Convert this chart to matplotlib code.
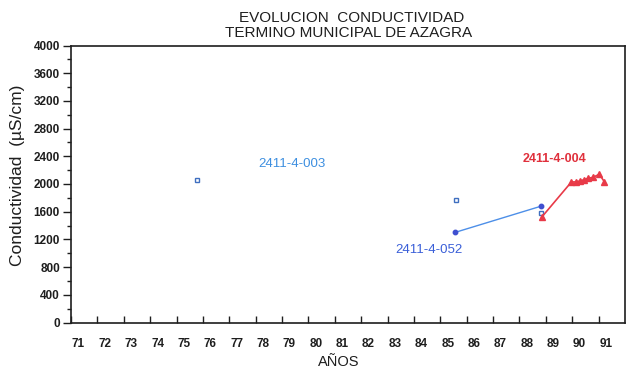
import matplotlib
matplotlib.use('Agg')
import matplotlib.pyplot as plt
from matplotlib.ticker import FixedLocator, MultipleLocator, NullFormatter, FixedFormatter

# ---------------- data ----------------
years = list(range(71, 92))
year_labels = [str(y) for y in years]
y_ticks = list(range(0, 4001, 400))

s003_x = [75.77, 85.59, 88.83]
s003_y = [2060, 1775, 1580]

s052_x = [85.55, 88.82]
s052_y = [1300, 1680]

s004_x = [88.84, 89.97, 90.13, 90.31, 90.43, 90.58, 90.77, 91.03, 91.22]
s004_y = [1520, 2030, 2030, 2045, 2060, 2080, 2095, 2140, 2030]

title_lines = ["EVOLUCION  CONDUCTIVIDAD", "TERMINO MUNICIPAL DE AZAGRA"]
ylabel = "Conductividad  (µS/cm)"
xlabel = "AÑOS"

# ---------------- style ----------------
FONT = ['Liberation Sans', 'DejaVu Sans']
plt.rcParams['font.family'] = FONT
INK = '#1e1e1e'
BLUE_LINE = '#4d8fe8'
BLUE_PT = '#3f4fd0'
SQ_EDGE = '#3f6fc0'
RED = '#e83a48'

W, H = 628, 375
fig = plt.figure(figsize=(W / 100, H / 100), dpi=100)
fig.patch.set_facecolor('white')

L, R, T, B = 71, 625, 45.5, 322.5
ax = fig.add_axes([L / W, (H - B) / H, (R - L) / W, (B - T) / H])
ax.set_xlim(71, 92)
ax.set_ylim(0, 4000)

for s in ax.spines.values():
    s.set_color(INK)
    s.set_linewidth(1.2)

# x axis: ticks at years (inward), labels slightly to the right
ax.xaxis.set_major_locator(FixedLocator(years))
ax.xaxis.set_major_formatter(NullFormatter())
ax.xaxis.set_minor_locator(FixedLocator([y + 0.28 for y in years]))
ax.xaxis.set_minor_formatter(FixedFormatter(year_labels))
ax.tick_params(axis='x', which='major', direction='in', length=5, width=1.0,
               color=INK, top=False)
ax.tick_params(axis='x', which='minor', length=0, pad=11, labelsize=8.5,
               labelcolor=INK)
for lab in ax.xaxis.get_minorticklabels():
    lab.set_fontweight('bold')

# y axis
ax.yaxis.set_major_locator(FixedLocator(y_ticks))
ax.yaxis.set_minor_locator(MultipleLocator(200))
ax.tick_params(axis='y', which='major', direction='out', length=6, width=1.0,
               color=INK, labelsize=8.5, labelcolor=INK, pad=2, right=False)
ax.tick_params(axis='y', which='minor', direction='out', length=3, width=1.0,
               color=INK, right=False)
for lab in ax.get_yticklabels():
    lab.set_fontweight('bold')

# ---------------- series ----------------
ax.plot(s052_x, s052_y, color=BLUE_LINE, lw=1.0, marker='o', ms=3.2,
        mfc=BLUE_PT, mec=BLUE_PT, zorder=3)
ax.plot(s003_x, s003_y, ls='none', marker='s', ms=3.0, mfc='white',
        mec=SQ_EDGE, mew=1.0, zorder=4)
ax.plot(s004_x, s004_y, color=RED, lw=1.2, marker='^', ms=4.0,
        mfc=RED, mec=RED, zorder=5)

ax.text(79.39, 2294, "2411-4-003", color='#3d8fe0', fontsize=9.5,
        ha='center', va='center')
ax.text(84.55, 1054, "2411-4-052", color='#3a5fd8', fontsize=9.5,
        ha='center', va='center')
ax.text(89.34, 2367, "2411-4-004", color='#e0303c', fontsize=9,
        fontweight='bold', ha='center', va='center')

# ---------------- titles ----------------
fig.text(352 / W, 1 - 18 / H, title_lines[0], ha='center', va='center',
         fontsize=11, color=INK)
fig.text(349 / W, 1 - 33 / H, title_lines[1], ha='center', va='center',
         fontsize=11, color=INK)
fig.text(18 / W, 1 - 175 / H, ylabel, rotation=90, ha='center', va='center',
         fontsize=12.5, color=INK)
fig.text(339 / W, 1 - 362 / H, xlabel, ha='center', va='center',
         fontsize=10.5, color=INK)

fig.savefig('out.png', dpi=100, facecolor='white')
